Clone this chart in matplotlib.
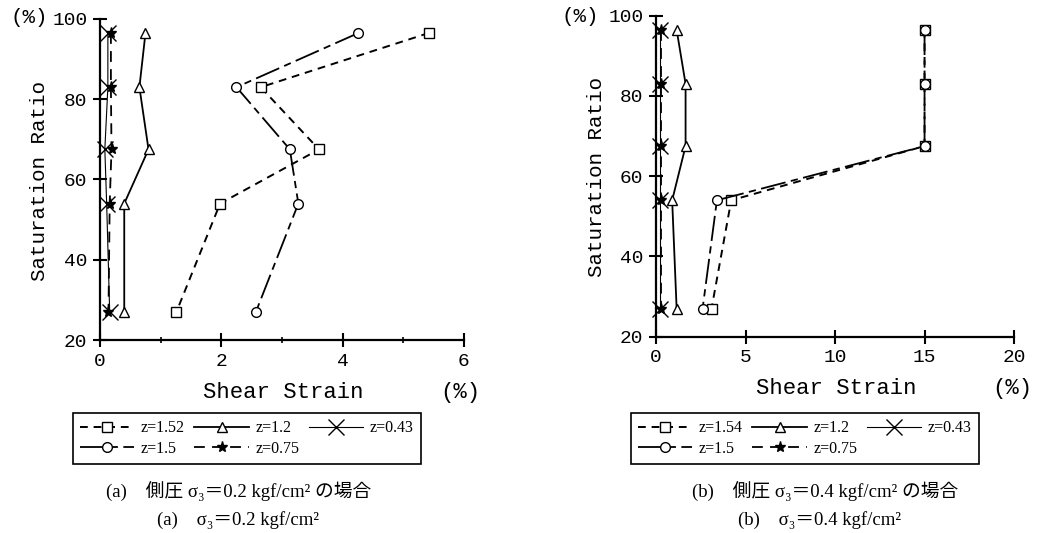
import matplotlib.pyplot as plt
from matplotlib.ticker import MultipleLocator

# saturation ratio levels (%)
sat = [96.5, 83, 67.5, 54, 27]

# (a) sigma3 = 0.2 kgf/cm2, shear strain (%)
a_z152 = [5.42, 2.65, 3.61, 1.98, 1.26]
a_z15 = [4.26, 2.25, 3.13, 3.27, 2.57]
a_z12 = [0.75, 0.65, 0.80, 0.40, 0.40]
a_z043 = [0.13, 0.13, 0.08, 0.11, 0.16]
a_z075 = [0.18, 0.18, 0.19, 0.16, 0.14]

# (b) sigma3 = 0.4 kgf/cm2, shear strain (%)
b_z154 = [15, 15, 15, 4.2, 3.1]
b_z15 = [15, 15, 15, 3.4, 2.6]
b_z12 = [1.15, 1.65, 1.65, 0.9, 1.15]
b_z043 = [0.2, 0.2, 0.2, 0.2, 0.2]
b_z075 = [0.25, 0.25, 0.25, 0.25, 0.25]

mono = "Liberation Mono"
cap_font = ["Liberation Serif", "DejaVu Serif", "Noto Sans CJK JP"]

fig = plt.figure(figsize=(10.48, 5.33), dpi=100)
ax1 = fig.add_axes([0.0954, 0.3621, 0.3473, 0.6023])
ax2 = fig.add_axes([0.626, 0.3683, 0.3416, 0.6022])


def draw(ax, s1, s2, s3, s4, s5, lab1):
    kw = dict(color="black", clip_on=False)
    h1, = ax.plot(s1, sat, linestyle=(0, (4, 3)), lw=1.4, marker="s", ms=7,
                  mfc="white", mec="black", label=lab1, **kw)
    h2, = ax.plot(s2, sat, linestyle=(0, (14, 3, 4, 3)), lw=1.3, marker="o",
                  ms=7, mfc="white", mec="black", label="z=1.5", **kw)
    h3, = ax.plot(s3, sat, linestyle="-", lw=1.3, marker="^", ms=7,
                  mfc="white", mec="black", label="z=1.2", **kw)
    h4, = ax.plot(s5, sat, linestyle=(0, (6, 4)), lw=1.3, marker="*", ms=8,
                  mfc="black", mec="black", label="z=0.75", **kw)
    h5, = ax.plot(s4, sat, linestyle="-", lw=0.8, marker="x", ms=12,
                  mew=1.0, label="z=0.43", **kw)
    return [h1, h2, h3, h4, h5]


handles1 = draw(ax1, a_z152, a_z15, a_z12, a_z043, a_z075, "z=1.52")
handles2 = draw(ax2, b_z154, b_z15, b_z12, b_z043, b_z075, "z=1.54")

for ax, xmax, step in [(ax1, 6, 2), (ax2, 20, 5)]:
    ax.set_xlim(0, xmax)
    ax.set_ylim(20, 100)
    ax.xaxis.set_major_locator(MultipleLocator(step))
    ax.yaxis.set_major_locator(MultipleLocator(20))
    ax.spines["top"].set_visible(False)
    ax.spines["right"].set_visible(False)
    ax.spines["left"].set_linewidth(1.6)
    ax.spines["bottom"].set_linewidth(1.6)
    ax.tick_params(which="major", direction="inout", length=10, width=1.5,
                   labelsize=14, pad=4)
    for lbl in ax.get_xticklabels() + ax.get_yticklabels():
        lbl.set_fontfamily(mono)

ax1.xaxis.set_minor_locator(MultipleLocator(1))
ax1.tick_params(which="minor", direction="inout", length=4, width=1.2)

ax1.text(0.503, -0.162, "Shear Strain", transform=ax1.transAxes,
         ha="center", va="center", fontsize=16, family=mono)
ax1.text(0.989, -0.162, "(%)", transform=ax1.transAxes,
         ha="center", va="center", fontsize=16, family=mono)
ax1.text(-0.165, 0.495, "Saturation Ratio", transform=ax1.transAxes,
         ha="center", va="center", rotation=90, fontsize=15, family=mono)
ax1.text(-0.195, 1.006, "(%)", transform=ax1.transAxes,
         ha="center", va="center", fontsize=15, family=mono)

ax2.text(0.503, -0.16, "Shear Strain", transform=ax2.transAxes,
         ha="center", va="center", fontsize=16, family=mono)
ax2.text(0.994, -0.16, "(%)", transform=ax2.transAxes,
         ha="center", va="center", fontsize=16, family=mono)
ax2.text(-0.165, 0.497, "Saturation Ratio", transform=ax2.transAxes,
         ha="center", va="center", rotation=90, fontsize=15, family=mono)
ax2.text(-0.212, 0.999, "(%)", transform=ax2.transAxes,
         ha="center", va="center", fontsize=15, family=mono)

for handles, x0 in [(handles1, 73 / 1048), (handles2, 631 / 1048)]:
    leg = fig.legend(handles=handles, loc="upper left",
                     bbox_to_anchor=(x0, 1 - 413 / 533), ncol=3,
                     prop={"family": "Liberation Serif", "size": 11.5},
                     handlelength=3.4, handletextpad=0.4, columnspacing=0.6,
                     labelspacing=0.3, borderpad=0.45, borderaxespad=0,
                     fancybox=False, framealpha=1, edgecolor="black")
    leg.get_frame().set_linewidth(1.2)

fig.text(239 / 1048, 1 - 492 / 533, "(a)　側圧 σ₃＝0.2 kgf/cm² の場合",
         ha="center", va="center", fontsize=13.5, family=cap_font)
fig.text(238 / 1048, 1 - 520 / 533, "(a)　σ₃＝0.2 kgf/cm²",
         ha="center", va="center", fontsize=13.5, family=cap_font)
fig.text(825 / 1048, 1 - 492 / 533, "(b)　側圧 σ₃＝0.4 kgf/cm² の場合",
         ha="center", va="center", fontsize=13.5, family=cap_font)
fig.text(820 / 1048, 1 - 520 / 533, "(b)　σ₃＝0.4 kgf/cm²",
         ha="center", va="center", fontsize=13.5, family=cap_font)

fig.savefig("out.png", dpi=100)
